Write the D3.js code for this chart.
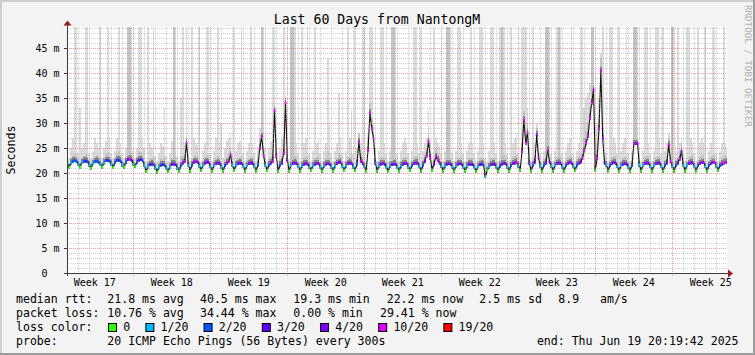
<!DOCTYPE html>
<html><head><meta charset="utf-8">
<script src="https://cdn.jsdelivr.net/npm/d3@7/dist/d3.min.js"></script>
<style>
html,body{margin:0;padding:0;background:#f3f3f3;}
svg{display:block;}
text{font-family:"DejaVu Sans Mono",monospace;white-space:pre;}
</style></head><body>
<svg id="chart" width="755" height="355"></svg>
<script>
// ---------------- data ----------------
const titleText = "Last 60 Days from NantongM";
const yAxisLabel = "Seconds";
const watermark = "RRDTOOL / TOBI OETIKER";
const yTicks = [0, 5, 10, 15, 20, 25, 30, 35, 40, 45];
const yTickLabels = ["0  ", "5 m", "10 m", "15 m", "20 m", "25 m", "30 m", "35 m", "40 m", "45 m"];
const weekLabels = ["Week 17", "Week 18", "Week 19", "Week 20", "Week 21", "Week 22", "Week 23", "Week 24", "Week 25"];
const weekStarts = [6.03, 13.03, 20.03, 27.03, 34.03, 41.03, 48.03, 55.03]; // days since graph start
const rangeDays = 60;
const firstSampleDay = 0.2 - 1 / 6;   // sample i at firstSampleDay + i*sampleStep
const sampleStep = 1 / 6;             // 4 hours

const lossLevels = [0, 1, 2, 3, 4, 10, 19];
const lossLabels = ["0", "1/20", "2/20", "3/20", "4/20", "10/20", "19/20"];
const lossColors = ["#26ff00", "#00b8ff", "#0059ff", "#5e00ff", "#7e00ff", "#dd00ff", "#ff0000"];

// median rtt (ms), one row per day
const median = [21.8,
 21.1,22.0,22.4,22.5,22.3,21.7, 21.2,22.1,22.4,22.4,22.3,21.6, 21.0,21.9,22.3,22.4,22.2,21.7,
 21.2,22.0,22.5,22.5,22.4,21.8, 21.1,22.1,22.6,22.6,22.4,21.6, 21.2,22.2,22.7,22.8,22.6,21.8,
 21.3,22.2,22.6,22.7,22.5,21.5, 20.3,21.2,21.7,21.8,21.7,21.0, 20.2,21.1,21.6,21.7,21.6,20.9,
 20.3,21.2,21.8,21.8,21.7,21.0, 20.4,21.5,22.0,22.3,26.0,21.5, 20.4,21.6,22.2,22.3,22.2,21.4,
 20.5,21.5,22.0,22.2,22.1,21.3, 20.4,21.5,21.9,22.0,21.9,21.2, 20.4,21.5,22.0,22.3,23.6,21.5,
 20.5,21.6,21.9,22.0,21.9,21.3, 20.4,21.5,21.9,22.0,22.0,21.3, 20.4,21.6,25.0,27.3,23.5,21.5,
 20.5,21.6,22.0,22.4,32.5,23.3, 20.4,21.6,22.0,24.0,34.0,22.5, 20.4,21.5,21.9,22.0,21.9,21.3,
 20.4,21.4,21.8,21.9,21.8,21.2, 20.5,21.5,21.8,21.9,21.9,21.2, 20.4,21.4,21.8,21.9,21.8,21.2,
 20.4,21.4,21.9,22.1,22.2,21.3, 20.5,21.4,21.9,22.0,21.9,21.2, 20.5,21.8,26.3,22.4,22.0,21.3,
 20.4,24.5,32.0,28.9,26.9,22.0, 20.4,21.4,21.8,21.9,21.8,21.2, 20.3,21.4,21.7,21.8,21.8,21.1,
 20.4,21.4,21.8,21.9,21.9,21.2, 20.5,21.5,21.9,22.0,22.0,21.3, 20.4,21.6,22.4,23.5,26.3,23.0,
 20.6,21.8,23.3,22.6,22.0,21.4, 20.4,21.4,21.8,21.9,21.8,21.2, 20.4,21.4,21.8,21.9,21.8,21.2,
 20.4,21.4,21.8,21.8,21.7,21.1, 20.3,21.3,21.7,21.8,21.6,19.3, 20.5,21.2,21.7,21.8,21.8,21.2,
 20.4,21.4,21.8,21.9,21.9,21.2, 20.4,21.5,21.9,22.0,22.2,21.4, 20.6,24.3,30.6,26.0,28.0,22.0,
 20.4,21.6,22.2,27.6,23.0,21.4, 20.4,21.6,22.0,24.6,22.2,21.4, 20.4,21.5,21.9,22.0,21.9,21.2,
 20.4,21.5,21.9,22.1,22.0,21.3, 20.5,21.6,22.0,22.2,23.0,24.5, 26.0,27.4,31.0,34.0,36.7,20.6,
 23.0,28.9,40.5,26.9,22.0,21.6, 20.4,21.5,21.9,22.1,22.0,21.3, 20.4,21.5,21.8,21.9,21.8,21.2,
 20.4,21.5,25.9,25.9,25.9,21.6, 20.4,21.5,21.9,22.0,22.0,21.3, 20.4,21.5,21.9,22.0,22.0,21.3,
 20.4,21.6,22.0,25.6,22.3,21.4, 20.4,21.6,22.0,22.8,24.3,21.5, 20.4,21.5,21.9,22.0,22.1,21.3,
 20.4,21.5,21.9,22.1,22.1,21.3, 20.4,21.5,21.9,22.1,22.1,21.4, 20.5,21.5,21.8,22.0,22.1,22.2];

// lost pings out of 20
const lossCount = [1,
 0,1,2,2,2,1, 0,1,2,3,2,1, 0,1,2,2,2,1, 0,1,2,3,2,1, 0,2,2,3,2,1, 0,2,3,10,3,1,
 0,2,3,3,2,1, 0,1,3,3,2,1, 0,1,2,3,2,1, 0,1,3,4,3,1, 0,2,4,10,10,1, 0,2,4,10,4,1,
 0,1,4,4,4,1, 0,1,4,4,3,1, 0,2,4,10,10,1, 0,1,3,4,3,1, 0,1,4,4,3,1, 0,2,10,10,10,1,
 0,2,4,10,10,10, 0,2,4,10,10,4, 0,1,4,4,3,1, 0,1,3,4,4,1, 0,1,4,4,4,1, 0,1,4,4,4,1,
 0,1,4,4,4,1, 0,1,4,4,4,1, 0,2,10,10,4,1, 0,10,10,10,10,2, 0,1,4,4,3,1, 0,1,3,4,3,1,
 0,1,4,4,4,1, 0,2,4,4,4,1, 0,2,4,10,10,10, 0,4,10,10,4,1, 0,1,3,4,3,1, 0,1,4,4,3,1,
 0,1,3,4,3,1, 0,1,3,3,2,1, 0,1,4,4,3,1, 0,2,4,4,4,1, 0,2,4,4,10,1, 0,10,10,10,10,4,
 0,2,4,4,10,1, 0,2,4,10,4,1, 0,1,4,4,4,1, 0,2,4,4,4,1, 0,2,4,4,10,10, 10,10,10,10,10,0,
 10,10,10,10,4,1, 0,2,4,4,3,1, 0,1,4,4,3,1, 0,2,10,4,4,1, 0,1,4,4,4,1, 0,1,4,4,3,1,
 0,2,4,10,10,1, 0,2,4,10,4,1, 0,1,4,4,4,1, 0,2,4,10,4,1, 0,2,4,4,10,1, 0,2,4,10,10,6];

// slowest ping of each sample (ms) - light smoke top
const smokeMax = [24,
 23,25,27,50,50,24, 33,25,26,50,50,24, 23,24.5,27,26,25,50, 23,25,26.5,50,27,24, 23,24.5,27,50,26,24, 23,25,50,50,50,24.5,
 23,25,50,50,27,25, 22.5,50,26,25,50,23.5, 22.5,24,26,25.5,33,23.5, 22.5,24,26.5,50,50,23.5, 22.5,35,50,26,50,24, 22.5,50,27,26,25.5,50,
 22.5,24.5,26,50,50,24, 22.5,24.5,27,50,26,30, 23,25,26.5,27,28,24, 50,24.5,26,26.5,50,24, 22.5,24.5,26,50,26,24, 22.5,25,29,50,50,25,
 22.5,25,26.5,50,50,27, 22.5,25,27,50,35.5,25, 22.5,50,50,50,26,24, 22.5,50,26,27,50,24, 22.5,24.5,50,26,27,24, 22.5,24.5,26,43,30,24,
 22.5,24.5,26,36,27,24, 22.5,24.5,50,27,32.6,24, 50,25,28,26,50,50, 22.5,28,50,50,30,25, 22.5,24.5,50,50,26,24, 22.5,24.5,50,50,50,24,
 22.5,24.5,26,27,26,24, 22.5,24.5,50,50,26,24, 50,24.5,26,27,32.6,26, 22.5,50,27,26,25.5,24, 22.5,24.5,50,50,50,24, 22.5,24.5,50,50,26,24,
 22.5,24.5,26,50,26,24, 22.5,24.5,50,50,26,23, 22.5,24.5,50,50,26,24, 22.5,50,50,50,26,24, 22.5,50,26,27,28,24, 22.5,50,50,50,33,25,
 22.5,50,26,30,26,24, 22.5,24.5,50,50,50,24, 22.5,24.5,50,50,50,24, 22.5,24.5,26,27,50,24, 22.5,24.5,26,50,50,33, 35,36,38,50,50,24,
 30,35,44,50,27,24, 22.5,50,50,27,26,24, 50,24.5,26,27,50,24, 22.5,24.5,50,50,50,24, 22.5,24.5,50,50,26,24, 22.5,24.5,50,50,27,24,
 50,24.5,26,28,26,50, 50,24.5,50,26,27,24, 22.5,50,50,27,26,24, 22.5,50,26,27,26,50, 22.5,24.5,26,50,50,24, 22.5,24.5,26,50,26,25];

// upper quartile ping of each sample (ms) - medium smoke top
const smokeMid = [22.8,
 22.0,23.0,23.6,23.8,23.6,22.8, 22.2,23.0,23.5,23.8,23.7,22.6, 22.0,22.9,23.5,23.6,23.4,23.2,
 22.2,23.0,23.8,24.2,23.6,22.8, 22.0,23.1,23.9,24.5,23.7,22.6, 22.2,23.2,50,50,24.0,22.8,
 22.3,23.2,24.5,24.2,23.6,22.5, 21.2,22.4,22.9,23.0,23.2,22.0, 21.1,22.2,22.8,22.9,23.4,21.9,
 21.2,22.3,23.0,50,23.5,22.0, 21.3,23.5,23.4,23.8,27.5,22.5, 21.3,22.8,23.5,23.6,23.4,22.4,
 21.4,22.6,23.3,23.6,23.4,22.3, 21.3,22.6,23.1,23.4,23.2,22.5, 21.3,22.6,23.3,23.8,25.0,22.5,
 21.4,22.7,23.1,23.3,23.4,22.3, 21.3,22.6,23.1,23.4,23.3,22.3, 21.3,22.8,27.0,50,25.5,22.6,
 21.4,22.8,23.3,24.0,34.0,25.0, 21.3,22.8,23.3,26.0,35.0,23.8, 21.3,50,50,23.4,23.2,22.3,
 21.3,22.5,23.0,23.3,23.4,22.2, 21.4,22.6,23.1,23.2,23.4,22.2, 21.3,22.5,23.0,24.5,23.2,22.2,
 21.3,22.5,23.1,24.0,23.6,22.3, 21.4,22.5,23.2,23.3,24.0,22.2, 21.4,23.0,28.0,24.0,23.4,22.3,
 21.3,26.5,34.0,31.0,28.5,23.0, 21.3,22.5,23.1,23.2,23.1,22.2, 21.2,22.5,50,50,23.3,22.1,
 21.3,22.5,23.1,23.3,23.2,22.2, 21.4,22.6,23.3,23.4,23.4,22.3, 21.3,22.7,23.8,25.0,28.0,24.5,
 21.5,23.0,25.0,24.0,23.2,22.4, 21.3,22.5,50,50,23.1,22.2, 21.3,22.5,23.1,23.2,23.1,22.2,
 21.3,22.5,23.0,23.1,23.0,22.1, 21.2,22.4,23.0,23.1,22.9,20.5, 21.4,22.3,23.0,23.1,23.1,22.2,
 21.3,22.6,50,23.6,23.2,22.2, 21.3,22.6,23.2,23.5,23.8,22.5, 21.5,26.0,32.5,28.0,30.0,23.5,
 21.3,22.8,23.6,29.0,24.5,22.4, 21.3,22.8,50,50,23.6,22.4, 21.3,22.6,23.2,50,23.2,22.2,
 21.3,22.6,23.2,23.6,23.4,22.3, 21.4,22.8,23.4,23.8,25.0,27.0, 28.5,30.0,33.5,50,50,21.8,
 26.0,31.0,43.0,29.0,23.5,22.6, 21.3,22.6,23.2,23.5,23.3,22.3, 21.3,22.5,23.1,23.2,23.2,22.2,
 21.3,22.6,50,50,27.0,22.6, 21.3,22.5,23.2,23.4,23.4,22.3, 21.3,22.5,23.2,23.4,23.3,22.3,
 21.3,22.7,23.3,27.0,24.0,50, 21.3,22.7,23.3,24.5,26.0,22.5, 21.3,22.5,23.2,23.4,23.6,22.3,
 21.3,22.6,23.2,23.6,23.6,22.3, 21.3,22.6,23.2,23.6,23.6,22.4, 21.4,22.6,23.1,23.5,23.6,23.4];

const statsRtt = ["median rtt:", "21.8 ms avg", "40.5 ms max", "19.3 ms min", "22.2 ms now", "2.5 ms sd", "8.9", "am/s"];
const statsLoss = ["packet loss:", "10.76 % avg", "34.44 % max", "0.00 % min", "29.41 % now"];
const lossTitle = "loss color:";
const probeTitle = "probe:";
const probeText = "20 ICMP Echo Pings (56 Bytes) every 300s";
const endText = "end: Thu Jun 19 20:19:42 2025";

// ---------------- layout ----------------
const P = {left: 67, right: 727, top: 26.5, bottom: 273};
const colRtt = [16, 107.3, 200, 293.3, 386.7, 479.3, 558.3, 600];
const colLoss = [16, 107.3, 200, 293.3, 380];
const legendBase = [303, 317, 331, 345];

const svg = d3.select("#chart");
const x = d3.scaleLinear().domain([0, rangeDays]).range([P.left, P.right]);
const y = d3.scaleLinear().domain([0, 49.3]).range([P.bottom, P.top]);
const tOf = i => firstSampleDay + i * sampleStep;
const lossColor = v => { let k = 0; lossLevels.forEach((l, j) => { if (v >= l) k = j; }); return lossColors[k]; };

// background + frame
svg.append("rect").attr("width", 755).attr("height", 355).attr("fill", "#f3f3f3");
svg.append("rect").attr("x", 0).attr("y", 0).attr("width", 755).attr("height", 2).attr("fill", "#cfcfcf");
svg.append("rect").attr("x", 0).attr("y", 0).attr("width", 2).attr("height", 355).attr("fill", "#cfcfcf");
svg.append("rect").attr("x", 0).attr("y", 353).attr("width", 755).attr("height", 2).attr("fill", "#9c9c9c");
svg.append("rect").attr("x", 753).attr("y", 0).attr("width", 2).attr("height", 355).attr("fill", "#9c9c9c");

svg.append("rect").attr("x", P.left).attr("y", P.top).attr("width", P.right - P.left)
  .attr("height", P.bottom - P.top).attr("fill", "#ffffff");

svg.append("defs").append("clipPath").attr("id", "plotclip").append("rect")
  .attr("x", P.left).attr("y", P.top).attr("width", P.right - P.left).attr("height", P.bottom - P.top);

const g = svg.append("g").attr("clip-path", "url(#plotclip)");
const idx = d3.range(median.length);
const halfW = sampleStep / 2;
const cap = v => Math.min(v, 49.3);

// smoke
const smokeG = g.append("g").attr("shape-rendering", "crispEdges");
smokeG.selectAll("rect.lt").data(idx).join("rect").attr("class", "lt")
  .attr("x", i => x(tOf(i) - halfW)).attr("width", i => x(tOf(i) + halfW) - x(tOf(i) - halfW))
  .attr("y", i => y(cap(smokeMax[i]))).attr("height", i => y(median[i] - 0.3) - y(cap(smokeMax[i])))
  .attr("fill", "#dcdcdc");
smokeG.selectAll("rect.md").data(idx).join("rect").attr("class", "md")
  .attr("x", i => x(tOf(i) - halfW)).attr("width", i => x(tOf(i) + halfW) - x(tOf(i) - halfW))
  .attr("y", i => y(cap(smokeMid[i]))).attr("height", i => Math.max(0, y(median[i] - 0.3) - y(cap(smokeMid[i]))))
  .attr("fill", "#c4c4c4");
smokeG.selectAll("rect.dk").data(idx).join("rect").attr("class", "dk")
  .attr("x", i => x(tOf(i) - halfW)).attr("width", i => x(tOf(i) + halfW) - x(tOf(i) - halfW))
  .attr("y", i => y(Math.min(smokeMid[i], median[i] + 0.8))).attr("height", i => Math.max(0, y(median[i] - 0.3) - y(Math.min(smokeMid[i], median[i] + 0.8))))
  .attr("fill", "#858585");

// median line
g.append("path").datum(idx).attr("fill", "none").attr("stroke", "#111").attr("stroke-width", 1.1)
  .attr("d", d3.line().x(i => x(tOf(i))).y(i => y(median[i])));
g.selectAll("rect.med").data(idx).join("rect").attr("class", "med")
  .attr("x", i => x(tOf(i) - halfW)).attr("width", i => x(tOf(i) + halfW) - x(tOf(i) - halfW))
  .attr("y", i => y(median[i]) - 1.4).attr("height", 2.8)
  .attr("fill", i => lossColor(lossCount[i]));

// grid (drawn over the graph, as rrdtool does)
const gridG = svg.append("g").attr("shape-rendering", "crispEdges");
const minorY = d3.range(1, 50).filter(v => v % 5 !== 0);
gridG.selectAll("line.hm").data(minorY).join("line")
  .attr("x1", P.left).attr("x2", P.right).attr("y1", v => Math.round(y(v)) + 0.5).attr("y2", v => Math.round(y(v)) + 0.5)
  .attr("stroke", "rgba(140,140,140,0.42)").attr("stroke-dasharray", "1,1");
const dayLines = d3.range(0, rangeDays).map(k => weekStarts[0] - 6 + k).filter(d => d > 0 && !weekStarts.some(w => Math.abs(w - d) < 0.01));
gridG.selectAll("line.vm").data(dayLines).join("line")
  .attr("x1", d => Math.round(x(d)) + 0.5).attr("x2", d => Math.round(x(d)) + 0.5).attr("y1", P.top).attr("y2", P.bottom)
  .attr("stroke", "rgba(140,140,140,0.42)").attr("stroke-dasharray", "1,1");
gridG.selectAll("line.hM").data(yTicks.slice(1)).join("line")
  .attr("x1", P.left).attr("x2", P.right).attr("y1", v => Math.round(y(v)) + 0.5).attr("y2", v => Math.round(y(v)) + 0.5)
  .attr("stroke", "rgba(222,72,72,0.55)").attr("stroke-dasharray", "1,1");
gridG.selectAll("line.vM").data(weekStarts).join("line")
  .attr("x1", d => Math.round(x(d)) + 0.5).attr("x2", d => Math.round(x(d)) + 0.5).attr("y1", P.top).attr("y2", P.bottom + 3)
  .attr("stroke", "rgba(222,72,72,0.55)").attr("stroke-dasharray", "1,1");

// axes
const axisC = "#3a3a3a";
svg.append("line").attr("x1", P.left - 3).attr("x2", P.right + 2).attr("y1", P.bottom + 0.5).attr("y2", P.bottom + 0.5).attr("stroke", axisC);
svg.append("line").attr("x1", P.left + 0.5).attr("x2", P.left + 0.5).attr("y1", P.bottom + 3).attr("y2", P.top - 2).attr("stroke", axisC);
svg.append("path").attr("d", `M${P.right + 1},${P.bottom - 3.5} L${P.right + 6},${P.bottom + 0.5} L${P.right + 1},${P.bottom + 4.5} Z`).attr("fill", "#9b1c1c");
svg.append("path").attr("d", `M${P.left - 3.5},${P.top - 1} L${P.left + 0.5},${P.top - 6} L${P.left + 4.5},${P.top - 1} Z`).attr("fill", "#9b1c1c");
svg.selectAll("line.yt").data(yTicks).join("line")
  .attr("x1", P.left - 3).attr("x2", P.left).attr("y1", v => Math.round(y(v)) + 0.5).attr("y2", v => Math.round(y(v)) + 0.5).attr("stroke", axisC);

// y tick labels
svg.selectAll("text.yl").data(yTicks).join("text")
  .attr("x", P.left - 7.5).attr("y", v => y(v) + 3.5).attr("text-anchor", "end")
  .attr("font-size", 10).attr("fill", "#000").text((v, i) => yTickLabels[i]);

// week labels
svg.selectAll("text.wl").data(weekLabels).join("text")
  .attr("x", (d, i) => x((i < weekStarts.length ? weekStarts[i] : weekStarts[i - 1] + 7) - 3.5))
  .attr("y", 286).attr("text-anchor", "middle").attr("font-size", 10).attr("fill", "#000").text(d => d);

// title, axis label, watermark
svg.append("text").attr("x", 377).attr("y", 24).attr("text-anchor", "middle").attr("font-size", 13.2).attr("fill", "#000").text(titleText);
svg.append("text").attr("transform", "translate(14.5,150) rotate(-90)").attr("text-anchor", "middle").attr("font-size", 11.6).attr("fill", "#000").text(yAxisLabel);
svg.append("text").attr("transform", "translate(744.5,5) rotate(90)").attr("text-anchor", "start").attr("font-size", 9.2).attr("fill", "#b0b0b0").text(watermark);

// legend
const FS = 11.55;
statsRtt.forEach((s, i) => svg.append("text").attr("x", colRtt[i]).attr("y", legendBase[0]).attr("font-size", FS).text(s));
statsLoss.forEach((s, i) => svg.append("text").attr("x", colLoss[i]).attr("y", legendBase[1]).attr("font-size", FS).text(s));
svg.append("text").attr("x", 16).attr("y", legendBase[2]).attr("font-size", FS).text(lossTitle);
let bx = 108;
lossLabels.forEach((lab, i) => {
  svg.append("rect").attr("x", bx + 0.5).attr("y", legendBase[2] - 7.5).attr("width", 8).attr("height", 8)
    .attr("fill", lossColors[i]).attr("stroke", "#000").attr("stroke-width", 1);
  const t = svg.append("text").attr("x", bx + 15.2).attr("y", legendBase[2]).attr("font-size", FS).text(lab);
  bx = bx + 15.2 + t.node().getComputedTextLength() + 15.2;
});
svg.append("text").attr("x", 16).attr("y", legendBase[3]).attr("font-size", FS).text(probeTitle);
svg.append("text").attr("x", 107.3).attr("y", legendBase[3]).attr("font-size", FS).text(probeText);
svg.append("text").attr("x", 738.5).attr("y", legendBase[3]).attr("text-anchor", "end").attr("font-size", FS).text(endText);
</script>
</body></html>
